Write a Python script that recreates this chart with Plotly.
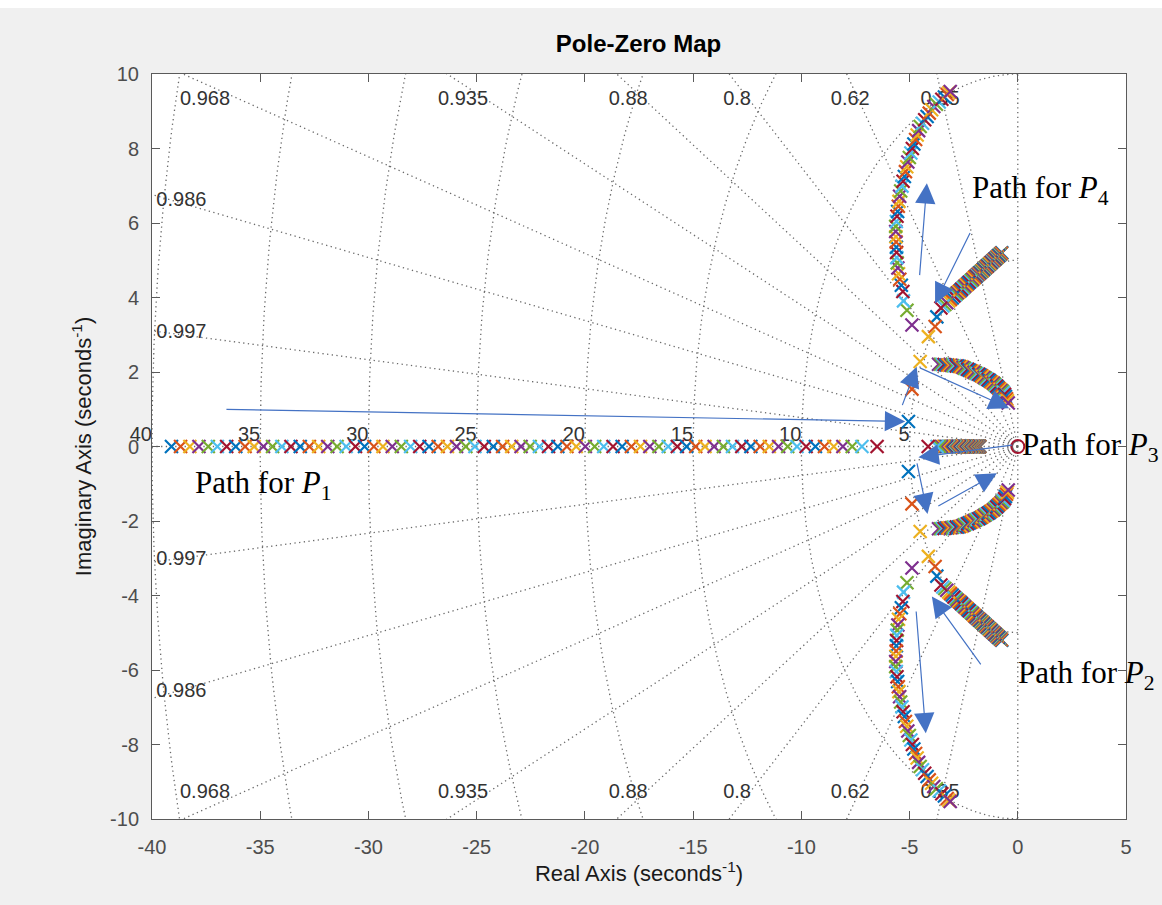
import numpy as np
import plotly.graph_objects as go

# ---------------- data ----------------
matlab_colors = ['#0072BD', '#D95319', '#EDB120', '#7E2F8E', '#77AC30', '#4DBEEE', '#A2142F']

# P1 while it is real (iterations 1..77)
p1_real = [
    -39.10, -38.68, -38.25, -37.83, -37.40, -36.98, -36.55, -36.13, -35.70, -35.28,
    -34.85, -34.43, -34.00, -33.58, -33.15, -32.73, -32.30, -31.88, -31.45, -31.03,
    -30.60, -30.18, -29.75, -29.33, -28.90, -28.48, -28.05, -27.63, -27.20, -26.78,
    -26.35, -25.93, -25.50, -25.08, -24.65, -24.23, -23.80, -23.38, -22.95, -22.53,
    -22.10, -21.68, -21.25, -20.83, -20.40, -19.98, -19.55, -19.13, -18.70, -18.28,
    -17.85, -17.43, -17.00, -16.58, -16.15, -15.73, -15.30, -14.88, -14.45, -14.03,
    -13.60, -13.18, -12.75, -12.33, -11.90, -11.48, -11.05, -10.63, -10.20, -9.78,
    -9.35, -8.93, -8.50, -8.08, -7.65, -7.20, -6.50]

# P3 while it is real (iterations 1..77)
p3_real = [
    -1.75, -1.76, -1.76, -1.77, -1.78, -1.79, -1.79, -1.80, -1.81, -1.82,
    -1.83, -1.84, -1.85, -1.86, -1.87, -1.88, -1.89, -1.90, -1.91, -1.92,
    -1.93, -1.95, -1.96, -1.97, -1.99, -2.00, -2.02, -2.03, -2.05, -2.06,
    -2.08, -2.10, -2.11, -2.13, -2.15, -2.17, -2.19, -2.21, -2.23, -2.25,
    -2.27, -2.29, -2.32, -2.34, -2.37, -2.39, -2.42, -2.45, -2.48, -2.51,
    -2.54, -2.57, -2.60, -2.63, -2.67, -2.70, -2.74, -2.77, -2.81, -2.85,
    -2.89, -2.93, -2.97, -3.01, -3.05, -3.10, -3.14, -3.19, -3.24, -3.29,
    -3.34, -3.40, -3.46, -3.53, -3.61, -3.73, -4.14]

# P1 / P3 complex pair after break-away (iterations 78..130), upper half
p13_cplx_re = [
    -5.05, -4.89, -4.51, -3.66,
    -3.56, -3.48, -3.40, -3.32, -3.24, -3.16, -3.08, -3.00, -2.92, -2.84, -2.76, -2.68,
    -2.60, -2.53, -2.46, -2.38, -2.31, -2.24, -2.16, -2.09, -2.02, -1.94, -1.87, -1.80, -1.74,
    -1.68, -1.62, -1.55, -1.49, -1.43, -1.37, -1.31, -1.24, -1.18, -1.12,
    -1.07, -1.02, -0.97, -0.92, -0.87, -0.81, -0.76, -0.71, -0.66,
    -0.61, -0.57, -0.52, -0.48, -0.44]
p13_cplx_im = [
    0.67, 1.54, 2.28, 2.21,
    2.21, 2.20, 2.20, 2.19, 2.19, 2.18, 2.18, 2.17, 2.17, 2.16, 2.16, 2.15,
    2.14, 2.12, 2.10, 2.08, 2.07, 2.05, 2.03, 2.01, 1.99, 1.97, 1.95, 1.94, 1.92,
    1.90, 1.88, 1.85, 1.83, 1.81, 1.79, 1.77, 1.74, 1.72, 1.70,
    1.67, 1.64, 1.62, 1.59, 1.56, 1.53, 1.50, 1.48, 1.45,
    1.40, 1.34, 1.28, 1.23, 1.17]

# P4 (upper half; P2 is its conjugate), iterations 1..130
p4_re = [
    -0.74, -0.76, -0.79, -0.81, -0.84, -0.86, -0.89, -0.91, -0.94, -0.96,
    -0.99, -1.01, -1.04, -1.06, -1.09, -1.11, -1.14, -1.16, -1.19, -1.21,
    -1.24, -1.26, -1.29, -1.31, -1.34, -1.36, -1.39, -1.41, -1.44, -1.46,
    -1.49, -1.51, -1.54, -1.56, -1.59, -1.61, -1.64, -1.66, -1.69, -1.71,
    -1.74, -1.76, -1.79, -1.81, -1.84, -1.86, -1.89, -1.91, -1.94, -1.96,
    -2.00, -2.05, -2.10, -2.15, -2.20, -2.25, -2.30, -2.35, -2.40, -2.45,
    -2.50, -2.55, -2.60, -2.65, -2.70, -2.75, -2.80, -2.85, -2.90, -2.95,
    -3.03, -3.11, -3.19, -3.28, -3.37, -3.46, -3.55,
    -3.74, -3.82, -4.13, -4.89, -5.12, -5.28, -5.31,
    -5.38, -5.45, -5.51, -5.54, -5.57, -5.59,
    -5.60, -5.61, -5.62, -5.63, -5.64, -5.64,
    -5.61, -5.58, -5.55, -5.52, -5.49, -5.46,
    -5.41, -5.35, -5.30, -5.24, -5.19, -5.13, -5.08,
    -5.01, -4.94, -4.87, -4.80, -4.72, -4.65, -4.58, -4.51,
    -4.40, -4.30, -4.19, -4.09, -3.98, -3.88,
    -3.76, -3.63, -3.51, -3.39, -3.26, -3.18, -3.12]
p4_im = [
    5.20, 5.19, 5.17, 5.16, 5.15, 5.13, 5.12, 5.11, 5.09, 5.08,
    5.07, 5.05, 5.04, 5.03, 5.02, 5.00, 4.99, 4.98, 4.96, 4.95,
    4.94, 4.92, 4.91, 4.90, 4.88, 4.87, 4.86, 4.84, 4.83, 4.82,
    4.80, 4.79, 4.78, 4.76, 4.75, 4.74, 4.72, 4.71, 4.70, 4.69,
    4.67, 4.66, 4.65, 4.63, 4.62, 4.61, 4.59, 4.58, 4.57, 4.55,
    4.54, 4.51, 4.48, 4.46, 4.43, 4.41, 4.38, 4.35, 4.33, 4.30,
    4.27, 4.25, 4.22, 4.19, 4.17, 4.14, 4.12, 4.09, 4.06, 4.04,
    3.99, 3.95, 3.91, 3.86, 3.81, 3.77, 3.72,
    3.48, 3.22, 2.95, 3.26, 3.66, 3.91, 4.16,
    4.33, 4.49, 4.64, 4.79, 4.93, 5.07,
    5.21, 5.35, 5.49, 5.63, 5.77, 5.91,
    6.04, 6.18, 6.31, 6.45, 6.58, 6.72,
    6.86, 6.99, 7.12, 7.25, 7.38, 7.51, 7.64,
    7.76, 7.88, 8.00, 8.12, 8.24, 8.36, 8.48, 8.59,
    8.68, 8.77, 8.86, 8.95, 9.04, 9.13,
    9.19, 9.25, 9.32, 9.38, 9.45, 9.50, 9.53]

zero_re = [0.0]
zero_im = [0.0]

zeta_grid = [0.35, 0.62, 0.8, 0.88, 0.935, 0.968, 0.986, 0.997]
wn_grid = [5, 10, 15, 20, 25, 30, 35, 40]

x_ticks = [-40, -35, -30, -25, -20, -15, -10, -5, 0, 5]
y_ticks = [-10, -8, -6, -4, -2, 0, 2, 4, 6, 8, 10]

# ---------------- build the figure ----------------
fig = go.Figure()

grid_line = dict(color='#6a6a6a', width=1.3, dash='1.3px,3.4px')

# damping-ratio rays
gx, gy = [], []
for z in zeta_grid:
    s = np.sqrt(1 - z * z)
    gx += [0, -100 * z, None, 0, -100 * z, None]
    gy += [0, 100 * s, None, 0, -100 * s, None]
gx += [0, -60, None, 0, 0, None]
gy += [0, 0, None, -12, 12, None]
fig.add_trace(go.Scatter(x=gx, y=gy, mode='lines', line=grid_line, hoverinfo='skip', showlegend=False))

# natural-frequency semicircles
th = np.linspace(-np.pi / 2, np.pi / 2, 400)
ax_, ay_ = [], []
for w in wn_grid:
    ax_ += list(-w * np.cos(th)) + [None]
    ay_ += list(w * np.sin(th)) + [None]
fig.add_trace(go.Scatter(x=ax_, y=ay_, mode='lines', line=grid_line, hoverinfo='skip', showlegend=False))

# grid labels (drawn below the markers)
lab_font = dict(family='Liberation Sans, Arial, sans-serif', size=20, color='#333333')
top_labels = [('0.968', -37.55), ('0.935', -25.63), ('0.88', -18.0), ('0.8', -12.97), ('0.62', -7.74), ('0.35', -3.59)]
fig.add_trace(go.Scatter(
    x=[p[1] for p in top_labels] * 2,
    y=[9.3] * len(top_labels) + [-9.3] * len(top_labels),
    text=[p[0] for p in top_labels] * 2,
    mode='text', textposition='middle center', textfont=lab_font,
    hoverinfo='skip', showlegend=False, cliponaxis=False))
left_labels = [('0.986', 6.6), ('0.997', 3.05)]
fig.add_trace(go.Scatter(
    x=[-39.8] * 4,
    y=[p[1] for p in left_labels] + [-p[1] for p in left_labels],
    text=[p[0] for p in left_labels] * 2,
    mode='text', textposition='middle right', textfont=lab_font,
    hoverinfo='skip', showlegend=False, cliponaxis=False))
fig.add_trace(go.Scatter(
    x=[-w for w in wn_grid], y=[0.02] * len(wn_grid), text=[str(w) for w in wn_grid],
    mode='text', textposition='top left', textfont=lab_font,
    hoverinfo='skip', showlegend=False, cliponaxis=False))

# poles, one colour per iteration (MATLAB colour order)
px, py, pc = [], [], []
n_iter = len(p4_re)
n_real = len(p1_real)
for k in range(n_iter):
    c = matlab_colors[k % 7]
    if k < n_real:
        pts = [(p1_real[k], 0.0), (p3_real[k], 0.0)]
    else:
        j = k - n_real
        pts = [(p13_cplx_re[j], p13_cplx_im[j]), (p13_cplx_re[j], -p13_cplx_im[j])]
    pts += [(p4_re[k], p4_im[k]), (p4_re[k], -p4_im[k])]
    for (a, b) in pts:
        px.append(a)
        py.append(b)
        pc.append(c)

fig.add_trace(go.Scatter(
    x=px, y=py, mode='markers',
    marker=dict(symbol='x-thin', size=13, line=dict(color=pc, width=2.2)),
    hoverinfo='skip', showlegend=False))

fig.add_trace(go.Scatter(
    x=zero_re, y=zero_im, mode='markers',
    marker=dict(symbol='circle-open', size=13, color=matlab_colors[6], line=dict(width=2)),
    hoverinfo='skip', showlegend=False))

# annotations: arrows and path labels
arrow_col = '#4472C4'
arrows = [
    ((-36.63, 1.00), (-5.20, 0.67)),
    ((-5.36, 1.07), (-4.67, 2.14)),
    ((-4.59, 2.13), (-0.40, 1.03)),
    ((-0.20, 0.04), (-4.59, -0.29)),
    ((-4.67, -0.41), (-4.17, -1.81)),
    ((-3.74, -1.62), (-0.97, -0.72)),
    ((-4.54, 4.56), (-4.20, 7.07)),
    ((-2.17, 5.77), (-3.82, 3.84)),
    ((-1.66, -5.89), (-3.97, -4.03)),
    ((-4.70, -4.39), (-4.25, -7.70)),
]
annotations = []
for (t, h) in arrows:
    annotations.append(dict(
        x=h[0], y=h[1], ax=t[0], ay=t[1], xref='x', yref='y', axref='x', ayref='y',
        text='', showarrow=True, arrowhead=2, arrowsize=3.4, arrowwidth=1.2,
        arrowcolor=arrow_col))

path_font = dict(family='Liberation Serif, Times New Roman, serif', size=31, color='black')
path_labels = [
    ('Path for <i>P</i><sub>1</sub>', -38.1, -1.03),
    ('Path for <i>P</i><sub>2</sub>', -0.1, -6.13),
    ('Path for <i>P</i><sub>3</sub>', 0.1, 0.0),
    ('Path for <i>P</i><sub>4</sub>', -2.2, 6.89),
]
for (txt, x, y) in path_labels:
    annotations.append(dict(x=x, y=y, xref='x', yref='y', text=txt, showarrow=False,
                            xanchor='left', yanchor='middle', font=path_font))

axis_font = dict(family='Liberation Sans, Arial, sans-serif', size=20, color='#4d4d4d')
title_font = dict(family='Liberation Sans, Arial, sans-serif', size=22, color='#1a1a1a')

fig.update_layout(
    width=1162, height=905,
    margin=dict(l=152, r=36, t=74, b=86),
    paper_bgcolor='#f0f0f0', plot_bgcolor='white',
    title=dict(text='<b>Pole-Zero Map</b>', x=0.5495, xanchor='center', y=1 - 44 / 905,
               yanchor='middle', yref='container',
               font=dict(family='Liberation Sans, Arial, sans-serif', size=24, color='black')),
    annotations=annotations,
    shapes=[dict(type='rect', xref='paper', yref='paper', x0=-0.2, x1=1.2,
                 y0=1 + 66 / 745, y1=1 + 80 / 745, fillcolor='white', line=dict(width=0),
                 layer='below')],
    showlegend=False,
)
fig.update_xaxes(
    range=[-40, 5], tickvals=x_ticks, ticktext=[str(v) for v in x_ticks],
    showgrid=False, zeroline=False, showline=True, linecolor='#5a5a5a', linewidth=1,
    mirror='allticks', ticks='inside', ticklen=8, tickcolor='#5a5a5a',
    tickfont=axis_font, ticklabelstandoff=10,
    title=dict(text='Real Axis (seconds<sup>-1</sup>)', font=title_font, standoff=8))
fig.update_yaxes(
    range=[-10, 10], tickvals=y_ticks, ticktext=[str(v) for v in y_ticks],
    showgrid=False, zeroline=False, showline=True, linecolor='#5a5a5a', linewidth=1,
    mirror='allticks', ticks='inside', ticklen=8, tickcolor='#5a5a5a',
    tickfont=axis_font, ticklabelstandoff=8,
    title=dict(text='Imaginary Axis (seconds<sup>-1</sup>)', font=title_font, standoff=12))

fig.write_html("out.html", config={'displayModeBar': False},
               post_script="document.body.style.margin='0';")
